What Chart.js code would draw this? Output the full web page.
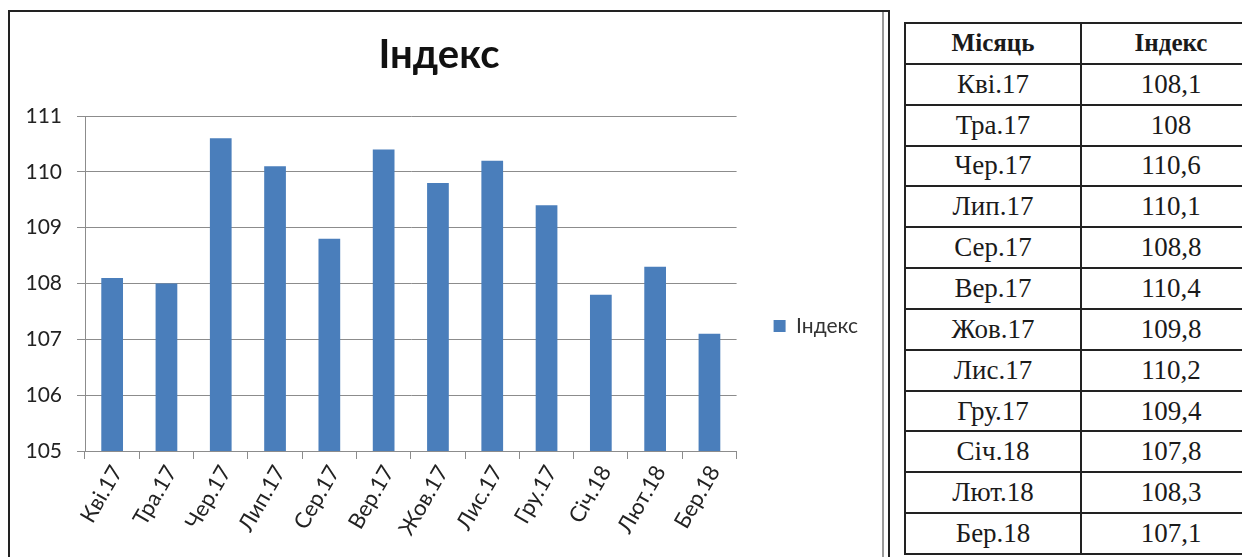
<!DOCTYPE html>
<html>
<head>
<meta charset="utf-8">
<script src="https://cdn.jsdelivr.net/npm/chart.js@4"></script>
<style>
  html, body { margin: 0; padding: 0; background: #fff; width: 1242px; height: 557px; overflow: hidden; position: relative; }
  #box { position: absolute; left: 8px; top: 10px; width: 882px; height: 700px; border: 2px solid #222; border-bottom: none; box-sizing: border-box; }
  #inner { position: absolute; left: 0; top: 0; width: 874px; height: 700px; border-right: 2px solid #9a9a9a; box-sizing: border-box; }
  #chart { position: absolute; left: 0; top: 0; }
  #tbl { position: absolute; left: 904px; top: 22px; width: 356px; border-collapse: collapse; table-layout: fixed; font-family: "Liberation Serif", "DejaVu Serif", serif; color: #1a1a1a; }
  #tbl td, #tbl th { border: 2px solid #222; height: 38.85px; padding: 0; text-align: center; vertical-align: middle; white-space: nowrap; }
  #tbl th { font-weight: bold; font-size: 25px; }
  #tbl td { font-size: 27px; }
</style>
</head>
<body>
<div id="box"><div id="inner"><canvas id="chart" width="871" height="628"></canvas></div></div>
<table id="tbl"><colgroup><col style="width:176px"><col style="width:180px"></colgroup><thead><tr id="hdr"></tr></thead><tbody id="tbody"></tbody></table>
<script>
const categories = ['Кві.17','Тра.17','Чер.17','Лип.17','Сер.17','Вер.17','Жов.17','Лис.17','Гру.17','Січ.18','Лют.18','Бер.18'];
const indexValues = [108.1, 108, 110.6, 110.1, 108.8, 110.4, 109.8, 110.2, 109.4, 107.8, 108.3, 107.1];
const seriesName = 'Індекс';
const chartTitle = 'Індекс';
const tableHeaders = ['Місяць', 'Індекс'];
const yMin = 105, yMax = 111, yStep = 1;

// table
const hdr = document.getElementById('hdr');
tableHeaders.forEach(h => { const th = document.createElement('th'); th.textContent = h; hdr.appendChild(th); });
const tb = document.getElementById('tbody');
categories.forEach((c, i) => {
  const tr = document.createElement('tr');
  const a = document.createElement('td'); a.textContent = c;
  const b = document.createElement('td'); b.textContent = String(indexValues[i]).replace('.', ',');
  tr.appendChild(a); tr.appendChild(b); tb.appendChild(tr);
});

const font = 'Lato, "Open Sans", sans-serif';
new Chart(document.getElementById('chart'), {
  type: 'bar',
  data: {
    labels: categories,
    datasets: [{
      label: seriesName,
      data: indexValues,
      backgroundColor: '#4a7ebb',
      borderWidth: 0,
      barPercentage: 0.4,
      categoryPercentage: 1.0
    }]
  },
  options: {
    responsive: false,
    animation: false,
    layout: { padding: { left: 0, right: 13, top: 0, bottom: 0 } },
    plugins: {
      title: {
        display: true, text: chartTitle, color: '#111',
        font: { family: font, size: 40, weight: 'bold' },
        padding: { top: 19, bottom: 37 }
      },
      legend: {
        position: 'right',
        labels: {
          color: '#333', font: { family: font, size: 21 },
          boxWidth: 12, boxHeight: 12, padding: 37
        }
      },
      tooltip: { enabled: false }
    },
    scales: {
      x: {
        afterFit: s => { s.height = 189; },
        grid: { display: true, drawOnChartArea: false, drawTicks: true, tickLength: 8, color: '#8c8c8c', offset: true },
        border: { color: '#8c8c8c', width: 1 },
        ticks: { color: '#222', font: { family: font, size: 22 }, minRotation: 60, maxRotation: 60, padding: 2, labelOffset: 5, autoSkip: false }
      },
      y: {
        min: yMin, max: yMax,
        afterFit: s => { s.width = 75; },
        grid: { color: '#8c8c8c', tickLength: 8, drawTicks: true },
        border: { color: '#8c8c8c', width: 1 },
        ticks: { stepSize: yStep, color: '#222', font: { family: font, size: 21 }, padding: 15 }
      }
    }
  }
});
</script>
</body>
</html>
